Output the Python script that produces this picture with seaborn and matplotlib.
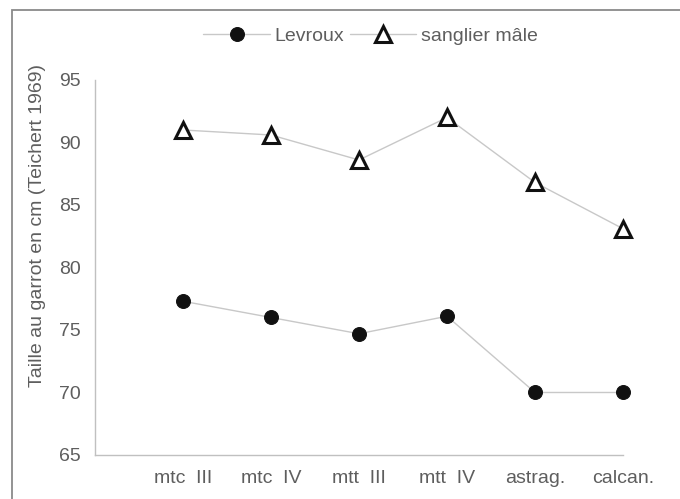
import pandas as pd
import matplotlib.pyplot as plt
import seaborn as sns
from matplotlib.patches import Rectangle

OUTPUT_PATH = "out.png"

categories = ["mtc  III", "mtc  IV", "mtt  III", "mtt  IV", "astrag.", "calcan."]
levroux = [77.3, 76.0, 74.7, 76.1, 70.0, 70.0]
sanglier = [91.0, 90.6, 88.6, 92.0, 86.8, 83.1]
series_names = ["Levroux", "sanglier mâle"]

TEXT_COLOR = "#5e5e5e"
AXIS_COLOR = "#c0c0c0"
LINE_COLOR = "#c8c8c8"


def main():
    sns.set_style("white")
    plt.rcParams["font.family"] = ["Liberation Sans", "DejaVu Sans"]

    df = pd.DataFrame({
        "pos": list(range(len(categories))) * 2,
        "value": levroux + sanglier,
        "serie": [series_names[0]] * len(levroux) + [series_names[1]] * len(sanglier),
    })

    fig = plt.figure(figsize=(6.8, 4.99), dpi=100)
    ax = fig.add_axes([0.1397, 0.0882, 0.7765, 0.7515])

    sns.lineplot(data=df[df["serie"] == series_names[0]], x="pos", y="value",
                 color=LINE_COLOR, linewidth=1.0, marker="o", markersize=10,
                 markerfacecolor="#111111", markeredgecolor="#111111",
                 label=series_names[0], ax=ax, clip_on=False)
    sns.lineplot(data=df[df["serie"] == series_names[1]], x="pos", y="value",
                 color=LINE_COLOR, linewidth=1.0, marker="^", markersize=11,
                 markerfacecolor="white", markeredgecolor="#111111",
                 markeredgewidth=2.2, label=series_names[1], ax=ax, clip_on=False)

    ax.set_xlim(-1, len(categories) - 1)
    ax.set_ylim(65, 95)
    ax.set_yticks(range(65, 96, 5))
    ax.set_xticks(range(-1, len(categories)))
    ax.set_xticklabels([""] + categories)
    ax.set_xlabel("")
    ax.set_ylabel("Taille au garrot en cm (Teichert 1969)", fontsize=14,
                  color=TEXT_COLOR)
    ax.yaxis.set_label_coords(-0.093, 0.613)

    for side in ["top", "right"]:
        ax.spines[side].set_visible(False)
    for side in ["left", "bottom"]:
        ax.spines[side].set_color(AXIS_COLOR)
        ax.spines[side].set_linewidth(1.0)
    ax.tick_params(axis="both", colors=AXIS_COLOR, labelcolor=TEXT_COLOR,
                   labelsize=14, length=5, width=1.0, direction="out")
    ax.tick_params(axis="y", pad=5)
    ax.tick_params(axis="x", pad=6)

    ax.get_legend().remove()
    handles, labels = ax.get_legend_handles_labels()
    fig.legend(handles, labels, loc="center", bbox_to_anchor=(0.545, 0.928),
               ncol=2, frameon=False, fontsize=14, handlelength=3.4,
               handletextpad=0.25, columnspacing=0.3, labelcolor=TEXT_COLOR)

    fig.patches.append(Rectangle((0.017, -0.05), 1.05, 1.03,
                                 transform=fig.transFigure, fill=False,
                                 edgecolor="#8a8a8a", linewidth=1.3))

    fig.savefig(OUTPUT_PATH, dpi=100)
    plt.close(fig)


if __name__ == "__main__":
    main()
